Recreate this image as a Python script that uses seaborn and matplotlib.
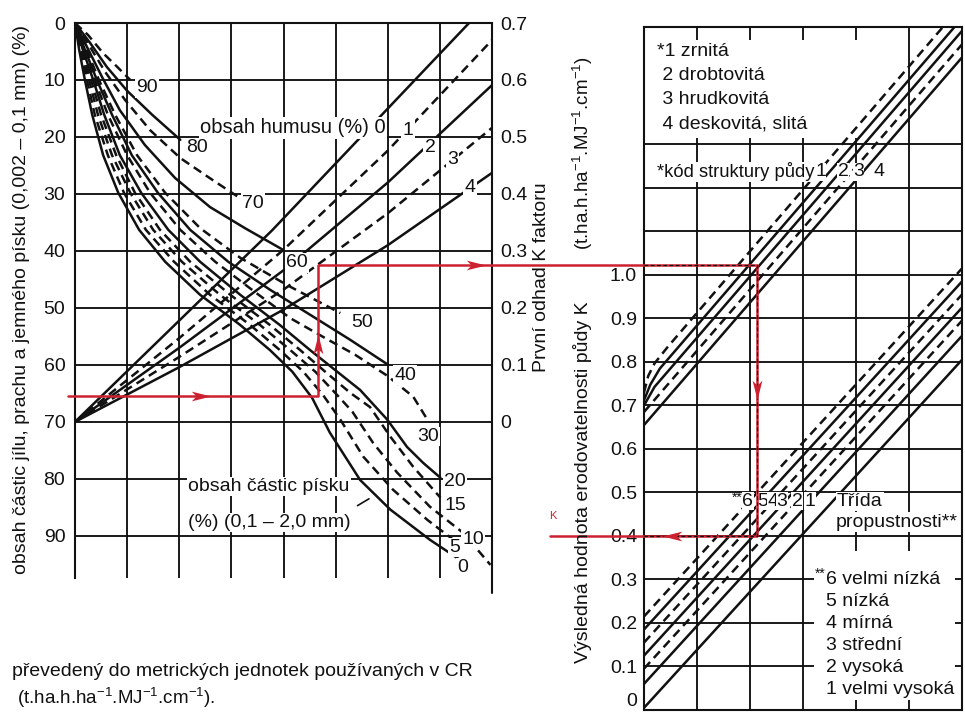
import matplotlib
matplotlib.use("Agg")
import matplotlib.pyplot as plt
import seaborn as sns
from matplotlib.patches import Rectangle

# ---------------- left nomogram ----------------
# y: obsah částic jílu, prachu a jemného písku (%), x: grid columns (0-80)
left_ticks = [0, 10, 20, 30, 40, 50, 60, 70, 80, 90]
left_cols = [10, 20, 30, 40, 50, 60, 70]
k_first_ticks = [0, 0.1, 0.2, 0.3, 0.4, 0.5, 0.6, 0.7]

# sand content curves (obsah částic písku, %)
sand_90 = ([0, 2.5, 5.4, 8.1, 10.6], [0, 2.1, 5.3, 7.7, 10.0])
sand_80 = ([0, 2.9, 6.1, 10.0, 14.8, 20.2], [0, 3.5, 7.7, 11.9, 16.1, 20.5])
sand_70 = ([0, 2.7, 5.8, 9.6, 14.4, 20.2, 25.5, 31.1],
           [0, 3.9, 8.6, 13.5, 18.8, 23.7, 27.0, 30.4])
sand_60 = ([0, 2.3, 5.2, 8.6, 13.4, 19.2, 25.9, 32.6, 39.9],
           [0, 4.2, 9.5, 15.3, 21.4, 27.2, 32.3, 36.0, 39.8])
sand_50 = ([0, 2.1, 4.6, 7.7, 11.9, 17.3, 24.0, 31.7, 40.7, 50.9],
           [0, 4.4, 10.0, 16.1, 23.2, 29.8, 36.0, 41.2, 46.0, 50.9])
sand_40 = ([0, 1.9, 4.2, 7.1, 10.9, 15.9, 22.1, 29.4, 37.4, 45.1, 52.8, 60.1],
           [0, 4.7, 10.0, 16.1, 23.2, 29.8, 36.3, 41.9, 46.8, 51.2, 55.6, 60.0])
sand_30 = ([0, 1.7, 3.8, 6.3, 10.0, 14.4, 20.2, 26.9, 34.5, 41.3, 48.0, 53.7, 59.9, 64.9, 67.6],
           [0, 4.7, 10.0, 16.1, 23.2, 29.8, 36.3, 41.9, 47.2, 51.8, 55.3, 58.2, 61.9, 65.6, 69.6])
sand_20 = ([0, 1.5, 3.5, 5.6, 8.6, 12.7, 17.9, 24.0, 31.7, 39.3, 45.1, 49.9, 54.7, 59.9, 63.7, 66.8, 70.1],
           [0, 4.7, 10.0, 16.1, 23.2, 29.8, 36.3, 41.9, 47.7, 53.0, 57.4, 60.9, 64.4, 69.6, 74.4, 77.2, 79.8])
sand_15 = ([0, 1.3, 3.1, 5.0, 7.9, 11.5, 16.3, 22.1, 29.8, 37.4, 43.2, 48.0, 52.8, 56.6, 60.5, 64.9, 70.1],
           [0, 4.7, 10.0, 16.1, 23.2, 29.8, 36.3, 41.9, 47.7, 53.0, 57.4, 61.2, 64.9, 67.4, 72.6, 77.9, 83.3])
sand_10 = ([0, 1.2, 2.7, 4.4, 7.1, 10.6, 15.0, 20.5, 27.8, 35.5, 41.3, 46.1, 49.9, 53.2, 57.2, 61.8, 68.1, 74.5, 79.7],
           [0, 4.7, 10.0, 16.1, 23.2, 29.8, 36.3, 41.9, 47.7, 53.0, 57.4, 61.2, 64.9, 68.2, 73.7, 78.9, 84.9, 89.5, 95.1])
sand_5 = ([0, 1.0, 2.3, 3.8, 6.3, 9.4, 13.6, 19.0, 25.9, 33.6, 39.3, 43.8, 47.6, 50.9, 55.3, 61.0, 67.6, 72.6],
          [0, 4.7, 10.0, 16.1, 23.2, 29.8, 36.3, 41.9, 47.7, 53.0, 57.4, 61.2, 65.3, 69.6, 76.1, 81.9, 87.2, 90.7])
sand_0 = ([0, 0.8, 1.9, 3.3, 5.4, 8.3, 12.3, 17.3, 24.0, 31.7, 37.4, 41.7, 45.5, 48.9, 54.7, 60.5, 68.1, 74.5],
          [0, 4.7, 10.0, 16.1, 23.2, 29.8, 36.3, 41.9, 47.7, 53.0, 57.4, 61.2, 65.8, 71.9, 80.2, 85.4, 90.7, 94.6])

sand_values = [90, 80, 70, 60, 50, 40, 30, 20, 15, 10, 5, 0]
sand_dashed = [90, 70, 50, 30, 15, 10, 5]
sand_label_x = [13.8, 23.4, 34.2, 42.6, 55.1, 63.3, 67.8, 72.9, 72.9, 76.4, 72.9, 74.3]
sand_label_y = [11.4, 21.8, 31.6, 42.1, 52.6, 61.8, 72.6, 80.4, 84.6, 90.7, 92.1, 95.6]

# humus content lines (obsah humusu, %)
humus_0 = ([0, 18.9, 37.8, 56.7, 75.6], [70, 53.2, 36.4, 18.2, 0])
humus_1 = ([0, 20, 40, 60, 80], [70, 55.3, 39.8, 22.4, 3.0])
humus_2 = ([0, 20, 40, 60, 80], [70, 57.0, 43.4, 28.0, 10.9])
humus_3 = ([0, 20, 40, 60, 80], [70, 58.6, 46.8, 33.4, 18.4])
humus_4 = ([0, 20, 40, 60, 80], [70, 60.4, 50.3, 39.0, 26.3])
humus_dashed = [1, 3]
humus_label_x = [63.9, 68.1, 72.4, 75.8]
humus_label_y = [18.8, 21.8, 24.0, 28.8]

# ---------------- right nomogram ----------------
k_ticks = [0, 0.1, 0.2, 0.3, 0.4, 0.5, 0.6, 0.7, 0.8, 0.9, 1.0]
right_rows = [0.1, 0.2, 0.3, 0.4, 0.5, 0.6, 0.7, 0.8, 0.9, 1.0, 1.1, 1.2, 1.3]
right_cols = [1, 2, 3, 4, 5]

# soil structure lines (kód struktury půdy)
struct_1 = ([0, 0.08, 0.2, 0.45, 6], [0.73, 0.768, 0.797, 0.835, 1.621])
struct_2 = ([0, 0.12, 0.3, 6], [0.712, 0.748, 0.785, 1.59])
struct_3 = ([0, 0.2, 6], [0.70, 0.743, 1.561])
struct_4 = ([0, 6], [0.685, 1.53])
struct_5 = ([0, 6], [0.655, 1.50])
struct_dashed = [True, False, False, True, False]
struct_labels = ["1", "2", "3", "4"]
struct_label_x = [3.33, 3.76, 4.05, 4.43]

# permeability lines (třída propustnosti)
perm_x = [0, 6]
perm_start = [0.215, 0.185, 0.155, 0.125, 0.095, 0.06, 0.005]
perm_end = [1.015, 0.985, 0.955, 0.925, 0.895, 0.86, 0.805]
perm_dashed = [True, False, True, False, True, False, False]
perm_labels = ["6", "5", "4", "3", "2", "1"]
perm_label_x = [1.96, 2.23, 2.43, 2.60, 2.89, 3.13]

struct_legend = ["*1 zrnitá", " 2 drobtovitá", " 3 hrudkovitá", " 4 deskovitá, slitá"]
perm_legend = ["6 velmi nízká", "5 nízká", "4 mírná", "3 střední", "2 vysoká", "1 velmi vysoká"]

# worked example (red path)
silt_entry = 65.5
sand_hit_x = 46.6
humus_hit_y = 42.5
struct_hit_x = 2.13
k_result = 0.40

ink = "#111111"
red = "#cc2130"
dash = (0, (3.6, 2.2))
fs = 14
lw_line = 1.8
lw_grid = 1.35

sns.set_theme(style="white")
plt.rcParams["font.family"] = ["Liberation Sans", "DejaVu Sans"]
plt.rcParams["mathtext.fontset"] = "custom"
plt.rcParams["mathtext.rm"] = "Liberation Sans"
plt.rcParams["mathtext.it"] = "Liberation Sans:italic"
plt.rcParams["mathtext.bf"] = "Liberation Sans:bold"

W, H = 965, 716
fig = plt.figure(figsize=(W / 100, H / 100), dpi=100)


def box(l, t, r, b):
    return [l / W, 1 - b / H, (r - l) / W, (b - t) / H]


white_box = dict(facecolor="white", edgecolor="none", pad=0.8)

# ---------- left panel ----------
axl = fig.add_axes(box(75, 23, 492, 578))
axl.set_xlim(0, 80)
axl.set_ylim(97.4, 0)
for v in left_ticks[1:]:
    axl.axhline(v, color=ink, lw=lw_grid, zorder=1)
for c in left_cols:
    axl.axvline(c, color=ink, lw=lw_grid, zorder=1)
axl.plot([80, 80], [0, 100], color=ink, lw=1.5, clip_on=False, zorder=2)

sand_curves = [sand_90, sand_80, sand_70, sand_60, sand_50, sand_40,
               sand_30, sand_20, sand_15, sand_10, sand_5, sand_0]
for val, (xs, ys) in zip(sand_values, sand_curves):
    sns.lineplot(x=xs, y=ys, ax=axl, color=ink, lw=lw_line, sort=False, estimator=None,
                 linestyle=dash if val in sand_dashed else "-", zorder=3)

humus_lines = [humus_0, humus_1, humus_2, humus_3, humus_4]
for i, (xs, ys) in enumerate(humus_lines):
    sns.lineplot(x=xs, y=ys, ax=axl, color=ink, lw=lw_line, sort=False, estimator=None,
                 linestyle=dash if i in humus_dashed else "-", zorder=3)

for val, lx, ly in zip(sand_values, sand_label_x, sand_label_y):
    axl.text(lx, ly, str(val), fontsize=fs, color=ink, ha="center", va="center",
             zorder=5, bbox=white_box)
for i, (lx, ly) in enumerate(zip(humus_label_x, humus_label_y)):
    axl.text(lx, ly, str(i + 1), fontsize=fs, color=ink, ha="center", va="center",
             zorder=5, bbox=white_box)
axl.text(59.6, 18.4, "obsah humusu (%) 0", fontsize=14.5, color=ink, ha="right",
         va="center", zorder=5, bbox=white_box)
axl.text(21.7, 81.4, "obsah částic písku", fontsize=fs, color=ink, ha="left",
         va="center", zorder=5, bbox=white_box)
axl.text(21.7, 87.7, "(%) (0,1 – 2,0 mm)", fontsize=fs, color=ink, ha="left",
         va="center", zorder=5, bbox=white_box)
axl.plot([54.2, 56.4], [84.7, 83.5], color=ink, lw=1.2, zorder=5)

axl.set_xticks([])
axl.set_yticks(left_ticks)
axl.set_yticklabels([str(v) for v in left_ticks])
axl.tick_params(axis="y", length=0, pad=7, labelsize=fs, colors=ink)
for side in ["top", "left"]:
    axl.spines[side].set_color(ink)
    axl.spines[side].set_linewidth(1.5)
axl.spines["right"].set_visible(False)
axl.spines["bottom"].set_visible(False)

sec = axl.secondary_yaxis("right", functions=(lambda y: (70 - y) / 100,
                                              lambda k: 70 - 100 * k))
sec.set_yticks(k_first_ticks)
sec.set_yticklabels(["0" if k == 0 else f"{k:.1f}" for k in k_first_ticks])
sec.tick_params(length=0, pad=6, labelsize=fs, colors=ink)
sec.spines["right"].set_visible(False)

# ---------- right panel ----------
axr = fig.add_axes(box(644, 27, 962, 710))
axr.set_xlim(0, 6)
axr.set_ylim(0, 1.57)
for v in right_rows:
    axr.axhline(v, color=ink, lw=lw_grid, zorder=1)
for c in right_cols:
    axr.axvline(c, color=ink, lw=lw_grid, zorder=1)
# blank areas behind the text blocks
axr.add_patch(Rectangle((0.03, 1.315), 4.9, 0.225, facecolor="white",
                        edgecolor="none", zorder=1.5))
axr.add_patch(Rectangle((3.2, 0.022), 2.66, 0.343, facecolor="white",
                        edgecolor="none", zorder=1.5))

struct_lines = [struct_1, struct_2, struct_3, struct_4, struct_5]
for (xs, ys), d in zip(struct_lines, struct_dashed):
    sns.lineplot(x=xs, y=ys, ax=axr, color=ink, lw=lw_line, sort=False, estimator=None,
                 linestyle=dash if d else "-", zorder=3)
for y0, y1, d in zip(perm_start, perm_end, perm_dashed):
    sns.lineplot(x=perm_x, y=[y0, y1], ax=axr, color=ink, lw=lw_line, sort=False,
                 estimator=None, linestyle=dash if d else "-", zorder=3)

for i, t in enumerate(struct_legend):
    axr.text(0.25, 1.513 - 0.0553 * i, t, fontsize=fs, color=ink, ha="left",
             va="center", zorder=5)
axr.text(0.25, 1.237, "*kód struktury půdy", fontsize=13.2, color=ink, ha="left",
         va="center", zorder=5, bbox=dict(facecolor="white", edgecolor="none", pad=0.3))
for t, lx in zip(struct_labels, struct_label_x):
    axr.text(lx, 1.237, t, fontsize=fs, color=ink, ha="center", va="center",
             zorder=5, bbox=dict(facecolor="white", edgecolor="none", pad=0.3))

axr.text(1.86, 0.488, "**", fontsize=10, color=ink, ha="right", va="center", zorder=5)
for t, lx in zip(perm_labels, perm_label_x):
    axr.text(lx, 0.48, t, fontsize=fs, color=ink, ha="center", va="center",
             zorder=5, bbox=dict(facecolor="white", edgecolor="none", pad=0.3))
axr.text(3.64, 0.48, "Třída", fontsize=fs, color=ink, ha="left", va="center",
         zorder=5, bbox=white_box)
axr.text(3.62, 0.432, "propustnosti**", fontsize=fs, color=ink, ha="left",
         va="center", zorder=5, bbox=white_box)
axr.text(3.43, 0.312, "**", fontsize=10, color=ink, ha="right", va="center", zorder=5)
for i, t in enumerate(perm_legend):
    axr.text(3.44, 0.301 - 0.0506 * i, t, fontsize=fs, color=ink, ha="left",
             va="center", zorder=5)

axr.set_xticks([])
axr.set_yticks(k_ticks)
axr.set_yticklabels(["0" if k == 0 else f"{k:.1f}" for k in k_ticks])
axr.tick_params(axis="y", length=0, pad=5, labelsize=fs, colors=ink)
axr.get_yticklabels()[0].set_va("bottom")
for side in ["top", "bottom", "left", "right"]:
    axr.spines[side].set_color(ink)
    axr.spines[side].set_linewidth(1.5)

# ---------- worked example, drawn in right-panel coordinates ----------
axl.set_xlim(0, 80)
axl.set_ylim(97.4, 0)
axr.set_xlim(0, 6)
axr.set_ylim(0, 1.57)
to_r = axr.transData.inverted()
p_start = to_r.transform(axl.transData.transform((-1.3, silt_entry)))
p_sand = to_r.transform(axl.transData.transform((sand_hit_x, silt_entry)))
p_humus = to_r.transform(axl.transData.transform((sand_hit_x, humus_hit_y)))
p_struct = (struct_hit_x, p_humus[1])
p_perm = (struct_hit_x, k_result)
p_end = (-1.77, k_result)
path = [p_start, p_sand, p_humus, p_struct, p_perm, p_end]
axr.plot([p[0] for p in path], [p[1] for p in path], color=red, lw=1.8,
         clip_on=False, zorder=8)
axr.plot([0, struct_hit_x, struct_hit_x, 0],
         [p_humus[1], p_humus[1], k_result, k_result],
         color=ink, lw=0.9, linestyle=(0, (3, 2)), zorder=9)

heads = {
    ">": [(-1, -0.5), (1, 0), (-1, 0.5), (-0.5, 0), (-1, -0.5)],
    "^": [(-0.5, -1), (0, 1), (0.5, -1), (0, -0.5), (-0.5, -1)],
    "v": [(-0.5, 1), (0, -1), (0.5, 1), (0, 0.5), (-0.5, 1)],
    "<": [(1, -0.5), (-1, 0), (1, 0.5), (0.5, 0), (1, -0.5)],
}
for (a, b, f, kind) in [(p_start, p_sand, 0.53, ">"), (p_sand, p_humus, 0.4, "^"),
                        (p_humus, p_struct, 0.36, ">"), (p_struct, p_perm, 0.46, "v"),
                        (p_perm, p_end, 0.41, "<")]:
    mx = a[0] + f * (b[0] - a[0])
    my = a[1] + f * (b[1] - a[1])
    axr.plot([mx], [my], marker=heads[kind], markersize=14, color=red,
             markeredgewidth=0, clip_on=False, zorder=10)
axr.text(-1.72, 0.445, "K", fontsize=8, color=red, ha="center", va="center",
         clip_on=False, zorder=10)

# ---------- axis titles and notes ----------
fig.text(22 / W, 1 - 300 / H, "obsah částic jílu, prachu a jemného písku (0,002 – 0,1 mm) (%)",
         rotation=90, ha="center", va="center", fontsize=fs, color=ink)
fig.text(541 / W, 1 - 277 / H, "První odhad K faktoru", rotation=90, ha="center",
         va="center", fontsize=fs, color=ink)
fig.text(583 / W, 1 - 153 / H, r"(t.ha.h.ha$^{-1}$.MJ$^{-1}$.cm$^{-1}$)", rotation=90,
         ha="center", va="center", fontsize=13.5, color=ink)
fig.text(583 / W, 1 - 482 / H, "Výsledná hodnota erodovatelnosti půdy K", rotation=90,
         ha="center", va="center", fontsize=fs, color=ink)
fig.text(12 / W, 1 - 672 / H, "převedený do metrických jednotek používaných v CR",
         ha="left", va="center", fontsize=fs, color=ink)
fig.text(17 / W, 1 - 698 / H, r"(t.ha.h.ha$^{-1}$.MJ$^{-1}$.cm$^{-1}$).",
         ha="left", va="center", fontsize=13.5, color=ink)

fig.savefig("out.png", dpi=100)
plt.close(fig)
